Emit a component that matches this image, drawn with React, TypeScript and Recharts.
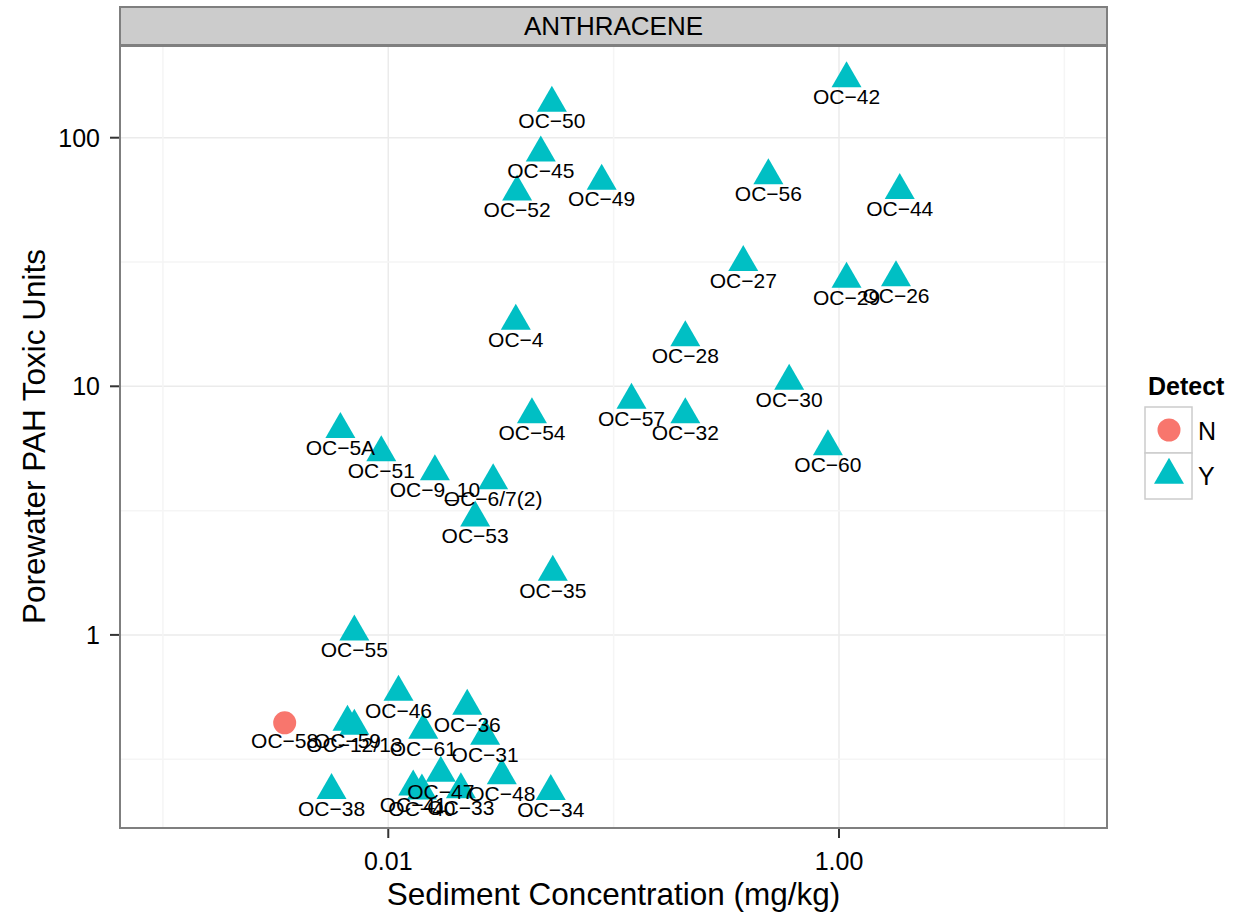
import React from 'react'
import { CartesianGrid, Legend, ReferenceLine, Scatter, ScatterChart, XAxis, YAxis } from 'recharts'

const sites = [
  'OC−42', 'OC−50', 'OC−45', 'OC−49', 'OC−52', 'OC−56', 'OC−44', 'OC−27', 'OC−29', 'OC−26',
  'OC−4', 'OC−28', 'OC−30', 'OC−57', 'OC−54', 'OC−32', 'OC−60', 'OC−5A', 'OC−51', 'OC−9_10',
  'OC−6/7(2)', 'OC−53', 'OC−35', 'OC−55', 'OC−46', 'OC−36', 'OC−59', 'OC−12/13', 'OC−58', 'OC−61',
  'OC−31', 'OC−47', 'OC−48', 'OC−38', 'OC−34', 'OC−33', 'OC−41', 'OC−40',
]

const sedimentConc = [
  1.08, 0.0532, 0.0475, 0.0885, 0.0373, 0.486, 1.86, 0.376, 1.08, 1.79,
  0.0368, 0.208, 0.601, 0.12, 0.0434, 0.208, 0.893, 0.00613, 0.00931, 0.0161,
  0.0292, 0.0243, 0.0537, 0.00707, 0.0111, 0.0224, 0.00659, 0.00707, 0.00347, 0.0143,
  0.0269, 0.0171, 0.0319, 0.0056, 0.0526, 0.021, 0.0129, 0.0141,
]

const toxicUnits = [
  173, 138, 87, 67, 60.6, 70.5, 61.5, 31.5, 27, 27.4,
  18.3, 15.7, 10.5, 8.8, 7.7, 7.7, 5.72, 6.71, 5.42, 4.54,
  4.18, 2.96, 1.79, 1.03, 0.589, 0.517, 0.446, 0.43, 0.443, 0.414,
  0.392, 0.278, 0.272, 0.237, 0.235, 0.239, 0.245, 0.236,
]

const detected = [
  'Y', 'Y', 'Y', 'Y', 'Y', 'Y', 'Y', 'Y', 'Y', 'Y',
  'Y', 'Y', 'Y', 'Y', 'Y', 'Y', 'Y', 'Y', 'Y', 'Y',
  'Y', 'Y', 'Y', 'Y', 'Y', 'Y', 'Y', 'Y', 'N', 'Y',
  'Y', 'Y', 'Y', 'Y', 'Y', 'Y', 'Y', 'Y',
]

const xTicks = [0.01, 1]
const xTickLabels = ['0.01', '1.00']
const yTicks = [1, 10, 100]
const yTickLabels = ['1', '10', '100']
const xMinor = [0.001, 0.1, 10]
const yMinor = [0.316, 3.16, 31.6]

const rows = sites.map((site, i) => ({ site, x: sedimentConc[i], y: toxicUnits[i], detect: detected[i] }))
const rowsN = rows.filter((r) => r.detect === 'N')
const rowsY = rows.filter((r) => r.detect === 'Y')

const font = '"Liberation Sans", Arial, sans-serif'
const red = '#F8766D'
const teal = '#00BFC4'

const trianglePath = (cx: number, cy: number) =>
  `M${cx},${cy - 17.3} L${cx + 15},${cy + 8.7} L${cx - 15},${cy + 8.7} Z`

const Triangle = (props: any) => <path d={trianglePath(props.cx, props.cy)} fill={teal} />
const Dot = (props: any) => <circle cx={props.cx} cy={props.cy} r={11.5} fill={red} />
const SiteLabel = (props: any) => (
  <text x={props.cx} y={props.cy + 18} textAnchor='middle' dominantBaseline='central'
    fontSize={21} fontFamily={font} fill='#000'>
    {props.payload.site}
  </text>
)

function DetectLegend() {
  return (
    <svg width={110} height={140} style={{ fontFamily: font }}>
      <text x={8} y={21} fontSize={25} fontWeight='bold' dominantBaseline='central'>Detect</text>
      <rect x={5} y={42} width={47} height={46} fill='#fff' stroke='#cccccc' strokeWidth={1.5} />
      <rect x={5} y={88} width={47} height={46} fill='#fff' stroke='#cccccc' strokeWidth={1.5} />
      <circle cx={29} cy={65} r={11.5} fill={red} />
      <path d={trianglePath(29, 110)} fill={teal} />
      <text x={58} y={66} fontSize={25} dominantBaseline='central'>N</text>
      <text x={58} y={111} fontSize={25} dominantBaseline='central'>Y</text>
    </svg>
  )
}

export default function App() {
  return (
    <div style={{ position: 'absolute', left: 0, top: 0, width: 1257, height: 913, background: '#fff', fontFamily: font }}>
      <ScatterChart width={1257} height={913} margin={{ top: 45, right: 150, bottom: 0, left: 0 }}>
        <CartesianGrid stroke='#ebebeb' strokeWidth={1.5} />
        {xMinor.map((v) => (
          <ReferenceLine key={`xm-${v}`} x={v} stroke='#f5f5f5' strokeWidth={1.5} />
        ))}
        {yMinor.map((v) => (
          <ReferenceLine key={`ym-${v}`} y={v} stroke='#f5f5f5' strokeWidth={1.5} />
        ))}
        <XAxis
          type='number'
          dataKey='x'
          scale='log'
          domain={[0.000645, 15.46]}
          allowDataOverflow
          ticks={xTicks}
          tickFormatter={(v: number) => xTickLabels[xTicks.indexOf(v)]}
          height={85}
          axisLine={false}
          tickSize={10}
          tickMargin={14}
          tickLine={{ stroke: '#333', strokeWidth: 2 }}
          tick={{ fontSize: 25, fill: '#000', fontFamily: font }}
          label={{ value: 'Sediment Concentration (mg/kg)', position: 'insideBottom', offset: 8, fontSize: 31.5, fill: '#000', fontFamily: font }}
        />
        <YAxis
          type='number'
          dataKey='y'
          scale='log'
          domain={[0.1672, 236.0]}
          allowDataOverflow
          ticks={yTicks}
          tickFormatter={(v: number) => yTickLabels[yTicks.indexOf(v)]}
          width={120}
          axisLine={false}
          tickSize={10}
          tickMargin={10}
          tickLine={{ stroke: '#333', strokeWidth: 2 }}
          tick={{ fontSize: 25, fill: '#000', fontFamily: font }}
          label={{ value: 'Porewater PAH Toxic Units', angle: -90, position: 'insideLeft', offset: 34, fontSize: 31.5, fill: '#000', fontFamily: font, style: { textAnchor: 'middle' } }}
        />
        <Scatter name='N' data={rowsN} fill={red} shape={Dot} isAnimationActive={false} />
        <Scatter name='Y' data={rowsY} fill={teal} shape={Triangle} isAnimationActive={false} />
        <Scatter name='labels' data={rows} legendType='none' shape={SiteLabel} isAnimationActive={false} />
        <Legend
          layout='horizontal'
          verticalAlign='middle'
          align='center'
          content={() => <DetectLegend />}
          wrapperStyle={{ left: 1140, top: 365, width: 110, height: 140, bottom: 'auto', right: 'auto' }}
        />
      </ScatterChart>
      <div style={{
        position: 'absolute', left: 119, top: 6, width: 989, height: 40, boxSizing: 'border-box',
        background: '#cccccc', border: '2px solid #7f7f7f', fontSize: 26, lineHeight: '37px',
        textAlign: 'center', color: '#000', pointerEvents: 'none',
      }}>
        ANTHRACENE
      </div>
      <div style={{
        position: 'absolute', left: 119, top: 45, width: 989, height: 784, boxSizing: 'border-box',
        border: '2px solid #7f7f7f', pointerEvents: 'none',
      }} />
    </div>
  )
}
